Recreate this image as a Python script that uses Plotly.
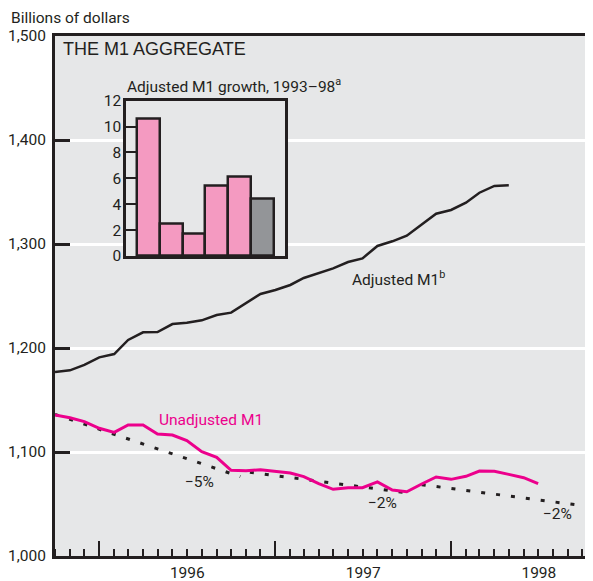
import plotly.graph_objects as go

INK = "#231f20"
PINK = "#ec008c"
BAR_PINK = "#f49ac1"
BAR_GRAY = "#939598"
BG = "#e6e7e8"
NARROW = "Roboto, DejaVu Sans Condensed, sans-serif"
WIDE = "Liberation Sans, Arial, Helvetica, sans-serif"
FS = 15.5

# ---- data ----
months = [
    "1995-10-01", "1995-11-01", "1995-12-01",
    "1996-01-01", "1996-02-01", "1996-03-01", "1996-04-01", "1996-05-01", "1996-06-01",
    "1996-07-01", "1996-08-01", "1996-09-01", "1996-10-01", "1996-11-01", "1996-12-01",
    "1997-01-01", "1997-02-01", "1997-03-01", "1997-04-01", "1997-05-01", "1997-06-01",
    "1997-07-01", "1997-08-01", "1997-09-01", "1997-10-01", "1997-11-01", "1997-12-01",
    "1998-01-01", "1998-02-01", "1998-03-01", "1998-04-01", "1998-05-01", "1998-06-01",
    "1998-07-01",
]

adjusted_m1 = [
    1176.9, 1178.5, 1183.7, 1191.0, 1194.2, 1207.7, 1215.1, 1215.4, 1223.0,
    1224.3, 1226.6, 1231.7, 1234.0, 1243.0, 1252.0, 1255.8, 1260.6, 1267.3,
    1271.8, 1276.6, 1282.7, 1286.2, 1298.1, 1302.6, 1308.0, 1318.3, 1329.1,
    1332.7, 1339.7, 1349.3, 1355.8, 1356.4,
]

unadjusted_m1 = [
    1135.6, 1133.0, 1129.2, 1122.8, 1118.9, 1126.0, 1126.0, 1117.3, 1116.3,
    1110.9, 1100.3, 1094.9, 1082.4, 1082.0, 1083.0, 1081.4, 1079.8, 1076.3,
    1069.5, 1064.1, 1065.7, 1065.7, 1071.2, 1063.5, 1061.8, 1069.2, 1076.0,
    1073.7, 1076.6, 1081.7, 1081.4, 1078.5, 1075.3, 1069.5,
]

# trend segments (start/end)
trend_5pct_dates = ["1995-10-01", "1996-10-20"]
trend_5pct_vals = [1136.2, 1076.3]
trend_2pct_a_dates = ["1996-11-09", "1997-10-08"]
trend_2pct_a_vals = [1080.5, 1060.4]
trend_2pct_b_dates = ["1997-11-01", "1998-10-23"]
trend_2pct_b_vals = [1068.6, 1047.1]

growth_years = ["1993", "1994", "1995", "1996", "1997", "1998"]
growth_vals = [10.6, 2.5, 1.7, 5.4, 6.1, 4.4]
growth_colors = [BAR_PINK, BAR_PINK, BAR_PINK, BAR_PINK, BAR_PINK, BAR_GRAY]

y_ticks = [1000, 1100, 1200, 1300, 1400, 1500]

fig = go.Figure()

dot = dict(color=INK, width=3, dash="4px,11px")
for d, v in [(trend_5pct_dates, trend_5pct_vals),
             (trend_2pct_a_dates, trend_2pct_a_vals),
             (trend_2pct_b_dates, trend_2pct_b_vals)]:
    fig.add_trace(go.Scatter(x=d, y=v, mode="lines", line=dot,
                             showlegend=False, hoverinfo="skip"))

fig.add_trace(go.Scatter(x=months[:len(unadjusted_m1)], y=unadjusted_m1, mode="lines",
                         line=dict(color=PINK, width=3), showlegend=False))
fig.add_trace(go.Scatter(x=months[:len(adjusted_m1)], y=adjusted_m1, mode="lines",
                         line=dict(color=INK, width=2.5), showlegend=False))

fig.add_trace(go.Bar(x=growth_years, y=growth_vals, xaxis="x2", yaxis="y2",
                     width=1, marker=dict(color=growth_colors, line=dict(color=INK, width=2.5)),
                     showlegend=False))

fig.add_shape(type="rect", xref="x2 domain", yref="y2 domain", x0=0, x1=1, y0=0, y1=1,
              fillcolor="white", line=dict(width=0), layer="below")

# The page body adds an 8px offset, so the figure is drawn 8px smaller
fig.update_layout(
    width=585, height=573,
    margin=dict(l=47, r=0, t=28, b=25, autoexpand=False),
    paper_bgcolor="white", plot_bgcolor=BG,
    bargap=0,
    font=dict(family=NARROW, size=FS, color=INK),
    xaxis=dict(
        type="date", range=["1995-10-01", "1998-10-23"],
        showline=True, linecolor=INK, linewidth=3, mirror=True,
        ticks="inside", tickcolor=INK, ticklen=15, tickwidth=2,
        tick0="1996-01-01", dtick="M12", tickformat="%Y", ticklabelmode="period",
        ticklabelstandoff=0,
        showgrid=False, zeroline=False,
        tickfont=dict(family=NARROW, size=FS, color=INK),
        minor=dict(ticks="inside", dtick="M1", tick0="1995-10-01", ticklen=7,
                   tickwidth=2, tickcolor=INK, showgrid=False),
    ),
    yaxis=dict(
        range=[1000, 1500], tickvals=y_ticks, tickformat=",",
        ticks="inside", ticklen=15, tickwidth=2.5, tickcolor=INK,
        ticklabelstandoff=3,
        showline=True, linecolor=INK, linewidth=3,
        showgrid=True, gridcolor="white", gridwidth=2.5, zeroline=False,
        tickfont=dict(family=NARROW, size=FS, color=INK),
    ),
    xaxis2=dict(
        domain=[0.132, 0.4275], anchor="y2", type="category", range=[-1, 6],
        showline=True, mirror=True, linecolor=INK, linewidth=2.5,
        showticklabels=False, ticks="", showgrid=False, zeroline=False,
    ),
    yaxis2=dict(
        domain=[0.5769, 0.8756], anchor="x2", range=[0, 12], dtick=2, tick0=0,
        ticks="inside", ticklen=11, tickwidth=2, tickcolor=INK,
        ticklabelstandoff=-1,
        showline=True, mirror=True, linecolor=INK, linewidth=2.5,
        showgrid=False, zeroline=False,
        tickfont=dict(family=NARROW, size=FS, color=INK),
    ),
)

def px(xp):
    return (xp - 55) / 538.0

def py(yp):
    return (556 - yp) / 520.0

annos = [
    dict(text="Billions of dollars", x=px(10), y=py(18), font=dict(family=NARROW, size=FS, color=INK)),
    dict(text="THE M1 AGGREGATE", x=px(62), y=py(49), font=dict(family=WIDE, size=18, color=INK)),
    dict(text="Adjusted M1 growth, 1993\u201398<sup>a</sup>", x=px(126), y=py(85), font=dict(family=NARROW, size=FS, color=INK)),
    dict(text="Unadjusted M1", x=px(158), y=py(420), font=dict(family=NARROW, size=FS, color=PINK)),
    dict(text="Adjusted M1<sup>b</sup>", x=px(351), y=py(278), font=dict(family=NARROW, size=FS, color=INK)),
    dict(text="\u22125%", x=px(184), y=py(482), font=dict(family=NARROW, size=FS, color=INK)),
    dict(text="\u22122%", x=px(367), y=py(503), font=dict(family=NARROW, size=FS, color=INK)),
    dict(text="\u22122%", x=px(542), y=py(514), font=dict(family=NARROW, size=FS, color=INK)),
]
for a in annos:
    fig.add_annotation(xref="paper", yref="paper", xanchor="left", yanchor="middle",
                       showarrow=False, borderpad=0, **a)

fig.write_html("out.html")
